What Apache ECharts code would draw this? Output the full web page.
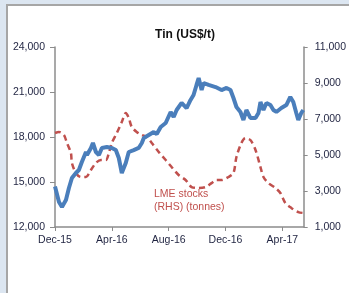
<!DOCTYPE html>
<html>
<head>
<meta charset="utf-8">
<script src="https://cdn.jsdelivr.net/npm/echarts@6/dist/echarts.min.js"></script>
<style>
  html, body { margin: 0; padding: 0; background: #dce6f1; }
  #chart { width: 349px; height: 293px; }
</style>
</head>
<body>
<div id="chart"></div>
<script>
// x positions are in months counted from Dec-15
var tickLabels = ["Dec-15", "Apr-16", "Aug-16", "Dec-16", "Apr-17"];

// tin price (US$/t), left axis
var priceMonths = [0, 0.28, 0.49, 0.77, 0.98, 1.19, 1.47, 1.68, 1.89, 2.18, 2.25, 2.53, 2.67, 2.88, 3.09, 3.3, 3.65, 4.0, 4.28, 4.49, 4.7, 4.98, 5.19, 5.54, 5.89, 6.11, 6.25, 6.6, 6.95, 7.16, 7.44, 7.79, 8.14, 8.35, 8.56, 8.91, 9.26, 9.54, 9.75, 9.96, 10.11, 10.32, 10.46, 10.81, 11.3, 11.72, 12.07, 12.35, 12.56, 12.77, 13.05, 13.26, 13.47, 13.75, 14.11, 14.32, 14.46, 14.67, 14.88, 15.16, 15.37, 15.58, 15.93, 16.28, 16.56, 16.77, 16.98, 17.12, 17.33, 17.47];
var priceValues = [14700, 13670, 13330, 13800, 14600, 15270, 15600, 15800, 16330, 17000, 16800, 17270, 17600, 17000, 16800, 17270, 17330, 17270, 17130, 16600, 15600, 16270, 17000, 17130, 17270, 17600, 17930, 18130, 18330, 18200, 18670, 18930, 19670, 19330, 19800, 20270, 19930, 20470, 20800, 21470, 21930, 21130, 21600, 21470, 21330, 21130, 21270, 21130, 20600, 20000, 19670, 19130, 19800, 19270, 19270, 19600, 20330, 19800, 20270, 20130, 19800, 19670, 19930, 20130, 20670, 20330, 19600, 19130, 19600, 19800];

// LME stocks (tonnes), right axis
var stockMonths = [0, 0.28, 0.63, 0.84, 1.12, 1.19, 1.47, 1.82, 2.18, 2.53, 2.88, 3.23, 3.58, 3.79, 4.0, 4.35, 4.7, 4.98, 5.19, 5.4, 5.75, 6.11, 6.46, 6.81, 7.3, 7.79, 8.21, 8.7, 9.19, 9.61, 10.11, 10.6, 11.02, 11.37, 11.72, 12.21, 12.56, 12.77, 13.12, 13.4, 13.75, 14.11, 14.46, 14.67, 15.02, 15.51, 15.86, 16.21, 16.63, 17.12, 17.47];
var stockValues = [6220, 6280, 6110, 5670, 5110, 4560, 4000, 3780, 3780, 4170, 4560, 4720, 4720, 5110, 5670, 6220, 6830, 7330, 7060, 6560, 6280, 6110, 6000, 5670, 5170, 4720, 4330, 3890, 3610, 3220, 3170, 3220, 3440, 3610, 3610, 3780, 4000, 4890, 5670, 5940, 5830, 5280, 4330, 3780, 3440, 3170, 2890, 2330, 2060, 1830, 1780];

function pairs(xs, ys) {
  return xs.map(function (x, i) { return [x, ys[i]]; });
}

var font = "Liberation Sans";
var textColor = "#1f2340";
var axisColor = "#8c8c8c";

var chart = echarts.init(document.getElementById("chart"));
chart.setOption({
  backgroundColor: "#dce6f1",
  animation: false,
  graphic: [
    {
      type: "rect",
      shape: { x: 7, y: 5, width: 345, height: 292 },
      style: { fill: "#ffffff", stroke: "#a6a6a6", lineWidth: 2 },
      z: -10
    },
    {
      type: "text",
      left: 154,
      top: 188,
      style: {
        text: "LME stocks\n(RHS) (tonnes)",
        fill: "#c0504d",
        font: "10.5px " + font,
        lineHeight: 13
      }
    }
  ],
  title: {
    text: "Tin (US$/t)",
    left: 180,
    top: 24,
    textAlign: "center",
    textStyle: { fontFamily: font, fontSize: 12, fontWeight: "bold", color: "#111" }
  },
  grid: { left: 55, right: 44, top: 47, bottom: 66 },
  xAxis: {
    type: "value",
    min: 0,
    max: 17.5,
    interval: 4,
    axisLine: { lineStyle: { color: axisColor, width: 1.5 } },
    axisTick: { length: 4, lineStyle: { color: axisColor } },
    splitLine: { show: false },
    axisLabel: {
      margin: 8,
      fontFamily: font,
      fontSize: 10.5,
      color: textColor,
      showMaxLabel: false,
      formatter: function (v) {
        return v % 4 === 0 ? tickLabels[v / 4] || "" : "";
      }
    }
  },
  yAxis: [
    {
      type: "value",
      min: 12000,
      max: 24000,
      interval: 3000,
      axisLine: { show: true, lineStyle: { color: axisColor, width: 1.5 } },
      axisTick: { show: true, length: 5, lineStyle: { color: axisColor } },
      splitLine: { show: false },
      axisLabel: {
        margin: 10,
        fontFamily: font,
        fontSize: 10.5,
        color: textColor,
        formatter: function (v) { return v.toLocaleString("en-US"); }
      }
    },
    {
      type: "value",
      position: "right",
      min: 1000,
      max: 11000,
      interval: 2000,
      axisLine: { show: true, lineStyle: { color: axisColor, width: 1.5 } },
      axisTick: { show: true, length: 4, lineStyle: { color: axisColor } },
      splitLine: { show: false },
      axisLabel: {
        margin: 11,
        fontFamily: font,
        fontSize: 10.5,
        color: textColor,
        formatter: function (v) { return v.toLocaleString("en-US"); }
      }
    }
  ],
  series: [
    {
      name: "LME stocks",
      type: "line",
      yAxisIndex: 1,
      data: pairs(stockMonths, stockValues),
      showSymbol: false,
      smooth: 0.3,
      lineStyle: { color: "#c0504d", width: 2.5, type: [6, 4] },
      z: 2
    },
    {
      name: "Tin",
      type: "line",
      yAxisIndex: 0,
      data: pairs(priceMonths, priceValues),
      showSymbol: false,
      lineStyle: { color: "#4a7ebb", width: 4 },
      z: 3
    }
  ]
});
</script>
</body>
</html>
